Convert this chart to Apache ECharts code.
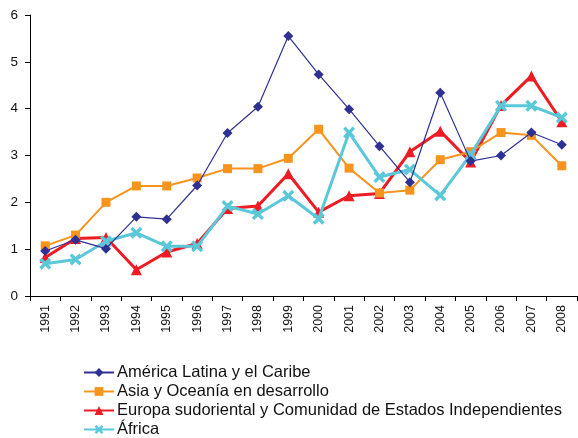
<!DOCTYPE html>
<html><head><meta charset="utf-8">
<script src="https://cdn.jsdelivr.net/npm/echarts@6/dist/echarts.min.js"></script>
<style>html,body{margin:0;padding:0;background:#fff}#c{width:578px;height:438px}</style>
</head><body><div id="c"></div>
<script>
const years = ['1991','1992','1993','1994','1995','1996','1997','1998','1999','2000','2001','2002','2003','2004','2005','2006','2007','2008'];
const america = [0.96,1.20,1.01,1.69,1.64,2.36,3.48,4.04,5.55,4.73,3.99,3.20,2.43,4.34,2.88,3.00,3.49,3.23];
const asia = [1.07,1.30,2.00,2.35,2.35,2.52,2.72,2.72,2.94,3.56,2.73,2.20,2.26,2.91,3.08,3.49,3.43,2.78];
const europa = [0.82,1.23,1.25,0.56,0.94,1.12,1.87,1.92,2.61,1.79,2.14,2.19,3.08,3.52,2.86,4.07,4.70,3.72];
const africa = [0.69,0.78,1.17,1.35,1.06,1.06,1.92,1.75,2.14,1.65,3.49,2.54,2.70,2.15,3.02,4.06,4.06,3.81];
const names = ['América Latina y el Caribe','Asia y Oceanía en desarrollo','Europa sudoriental y Comunidad de Estados Independientes','África'];

const xPath = 'path://M0,2 L2,0 L5,3 L8,0 L10,2 L7,5 L10,8 L8,10 L5,7 L2,10 L0,8 L3,5 Z';
const font = 'Liberation Sans, Arial, sans-serif';
const legendTops = [364, 383, 402, 421];
const legends = names.map((n, i) => ({
  orient: 'vertical', left: 83, top: legendTops[i], padding: 0,
  itemWidth: 30, itemHeight: 11,
  textStyle: {fontSize: 16.5, color: '#111', fontFamily: font, padding: [0,0,0,-2]},
  data: [n]
}));
const chart = echarts.init(document.getElementById('c'));
chart.setOption({
  animation: false,
  textStyle: {fontFamily: font},
  grid: {left: 30, right: 1, top: 15, bottom: 142, containLabel: false},
  legend: legends,
  xAxis: {
    type: 'category', data: years, boundaryGap: true,
    axisLine: {lineStyle: {color: '#000', width: 1}},
    axisTick: {show: true, alignWithLabel: false, length: 5, lineStyle: {color: '#000'}},
    axisLabel: {rotate: 90, fontSize: 12.5, color: '#111', margin: 9, interval: 0}
  },
  yAxis: {
    type: 'value', min: 0, max: 6, interval: 1,
    axisLine: {show: true, lineStyle: {color: '#000'}},
    axisTick: {show: true, length: 5, lineStyle: {color: '#000'}},
    splitLine: {show: false},
    axisLabel: {fontSize: 13.5, color: '#111', margin: 12}
  },
  series: [
    {name: names[0], type: 'line', data: america, symbol: 'diamond', symbolSize: 10,
     lineStyle: {color: '#2E3192', width: 1.2}, itemStyle: {color: '#2E3192'}, z: 5},
    {name: names[1], type: 'line', data: asia, symbol: 'rect', symbolSize: 9,
     lineStyle: {color: '#F7941D', width: 2}, itemStyle: {color: '#F7941D'}, z: 3},
    {name: names[2], type: 'line', data: europa, symbol: 'triangle', symbolSize: 11,
     lineStyle: {color: '#ED1C24', width: 3}, itemStyle: {color: '#ED1C24'}, z: 2},
    {name: names[3], type: 'line', data: africa, symbol: xPath, symbolSize: 12,
     lineStyle: {color: '#5BC8D9', width: 3}, itemStyle: {color: '#5BC8D9'}, z: 4}
  ]
});
</script></body></html>
